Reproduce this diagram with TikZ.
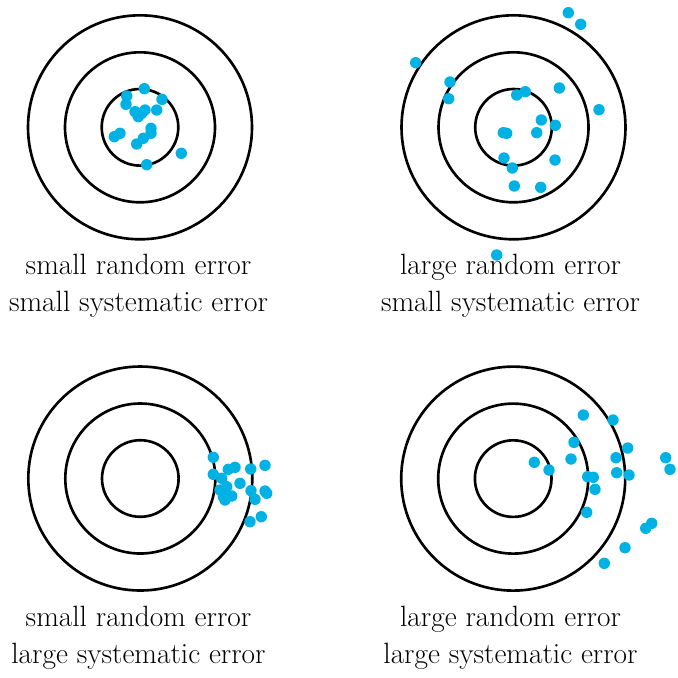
\documentclass[tikz,border=0pt]{standalone}
\usepackage{tikz}

\definecolor{shotblue}{RGB}{0,177,228}
\tikzset{
  ring/.style={line width=1.5pt},
  shot/.style={fill=shotblue},
  caption/.style={anchor=base,inner sep=0pt,font=\fontsize{16.7}{20}\selectfont}
}

\begin{document}
\begin{tikzpicture}[x=0.02cm,y=-0.02cm]
	  \useasboundingbox (0,0) rectangle (678,677);
	  % the four targets
	  \foreach \cx/\cy in {140/127.3,513.5/127.3,140.3/478.5,513.2/478.6}
	    \foreach \r in {38.3,75,112}
	      \draw[ring] (\cx,\cy) circle (\r);
	  % small random, small systematic
	  \foreach \x/\y in {144.3/88.7,126.7/96,126/104.3,162/99.3,156.7/110,135/111.7,145/110,
	      138.3/116.7,141.7/113.3,120/133.3,114.3/136.7,151/128.3,151/133.3,143.3/138.3,
	      136.7/144,181.3/153.3,146.7/164.7}
	    \fill[shot] (\x,\y) circle (5.7);
	  % large random, small systematic
	  \foreach \x/\y in {568.3/12.7,580.7/24.3,415.7/62.7,450/82,448.7/98.7,516.7/95,525.3/91.7,
	      559.3/88,599/109.7,541.3/120,555.3/125.3,503.3/132.7,506.7/133.3,536.7/132.7,
	      504/158,512.3/168,555/160,514.3/186,540.7/187.3,496.7/255}
	    \fill[shot] (\x,\y) circle (5.7);
	  % small random, large systematic
	  \foreach \x/\y in {213.3/457.3,265/465.3,228.3/469.3,235/467.3,250.7/469,213.3/474.3,
	      221.7/478.3,226.7/486.7,240/483.3,220/490,251/490.7,265/491,266.7/493.3,
	      223.3/496.7,231.7/496,225/500,255/499.3,261.3/516.7,250/521.7}
	    \fill[shot] (\x,\y) circle (5.7);
	  % large random, large systematic
	  \foreach \x/\y in {583.3/415,613/420,574/442.3,627.7/448,571/459,616/457.7,665.7/457.7,
	      670/469.3,534.3/462.3,549/470,616.7/472.7,629/475,587.7/476.7,593.3/477.3,
	      595/489.3,586.7/512.3,651.7/523.3,645.7/528.3,625/547.7,604.3/563.3}
	    \fill[shot] (\x,\y) circle (5.7);
	  \node[caption] (tl1) at (138.5,274.3) {small random error};
	  \node[caption] (tl2) at (138.5,311.7) {small systematic error};
	  \node[caption] (tr1) at (510.5,274.3) {large random error};
	  \node[caption] (tr2) at (510.5,311.7) {small systematic error};
	  \node[caption] (bl1) at (138.5,626.5) {small random error};
	  \node[caption] (bl2) at (138.5,663.5) {large systematic error};
	  \node[caption] (br1) at (510.5,626.5) {large random error};
	  \node[caption] (br2) at (510.5,663.5) {large systematic error};
	\end{tikzpicture}
\end{document}
